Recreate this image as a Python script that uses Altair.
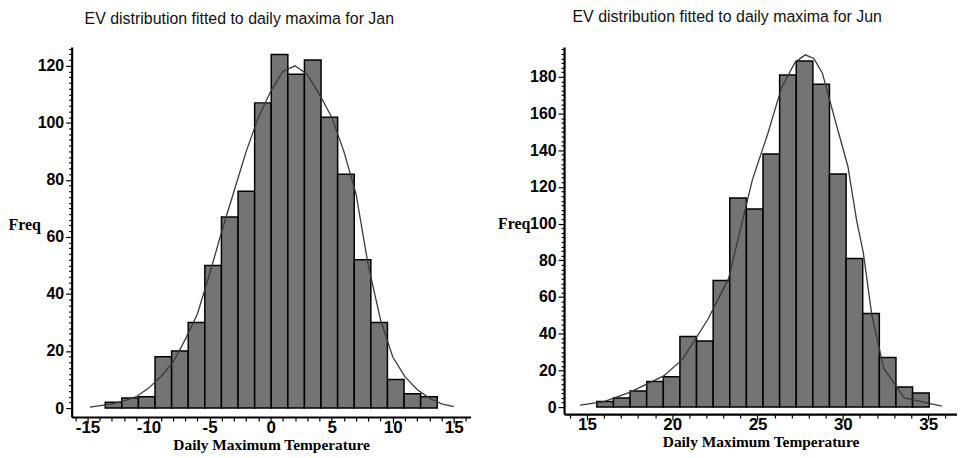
import altair as alt
import pandas as pd

# ---------------- data ----------------
jan_bin_start = -13.55
jan_bin_width = 1.36
jan_counts = [2, 3.5, 4, 18, 20, 30, 50, 67, 76, 107, 124, 117, 122, 102, 82, 52, 30, 10, 5, 4]

jan_curve_x = [-14.8, -13, -12, -11, -10, -9, -8, -7, -6, -5, -4, -3, -2, -1, 0, 1, 2, 3,
               4, 5, 6, 7, 8, 9, 10, 11, 12, 13, 14, 15]
jan_curve_y = [0.3, 1.5, 2.5, 4, 7, 11, 16, 24, 33, 47, 62, 76, 90, 102, 111, 118, 120, 117,
               110, 102, 90, 75, 50, 31, 18, 11, 6.5, 3.5, 1.5, 0.5]

jun_bin_start = 15.58
jun_bin_width = 0.974
jun_counts = [3, 5, 8.7, 14, 16.5, 38.5, 36, 69, 114, 108, 138, 181, 188.6, 176, 127, 81, 51, 27, 11, 7.7]

jun_curve_x = [14.6, 16, 17.5, 19.5, 20.6, 22.1, 23.3, 24.7, 25.6, 26.4, 27.2, 27.8, 28.3,
               28.8, 29.5, 30.3, 30.8, 31.2, 31.7, 32.4, 33.6, 35.8]
jun_curve_y = [1, 3, 8, 17, 26, 48, 70, 124, 149, 174, 188, 192, 190,
               182, 158, 131, 102, 84, 50, 21, 5, 0.5]

jan_title = "EV distribution fitted to daily maxima for Jan"
jun_title = "EV distribution fitted to daily maxima for Jun"
x_title = "Daily Maximum Temperature"
y_title = "Freq"

LABEL_FONT = "Liberation Sans, Arial, sans-serif"
SERIF = "Liberation Serif, Times New Roman, serif"
SANS = "Liberation Sans, Arial, sans-serif"


def panel(bin_start, bin_w, counts, cx, cy, xdom, ydom, xvals, yvals, ymajor,
          title, w, h, freq_x, freq_y, toffset):
    n = len(counts)
    bars = pd.DataFrame({
        "lo": [bin_start + i * bin_w for i in range(n)],
        "hi": [bin_start + (i + 1) * bin_w for i in range(n)],
        "n": counts,
        "zero": [0] * n,
    })
    curve = pd.DataFrame({"lo": cx, "n": cy})

    xaxis = alt.Axis(
        values=xvals,
        labelExpr="datum.value % 5 == 0 ? '' + datum.value : ''",
        tickSize={"condition": {"test": "datum.value % 5 == 0", "value": 6}, "value": 4},
        tickColor="black", tickWidth=1.2,
        domainColor="black", domainWidth=2.2,
        labelFont=LABEL_FONT, labelFontSize=17, labelFontWeight="bold",
        labelColor="black", labelPadding=-3, labelOverlap=False, labelFlush=False,
        labelBound=False,
        grid=False,
        title=x_title, titleFont=SERIF, titleFontSize=15.5, titleFontWeight="bold",
        titleColor="black", titlePadding=2,
    )
    yaxis = alt.Axis(
        values=yvals,
        labelExpr=f"datum.value % {ymajor} == 0 ? '' + datum.value : ''",
        tickSize={"condition": {"test": f"datum.value % {ymajor} == 0", "value": 6}, "value": 3},
        tickColor="black", tickWidth=1.2,
        domainColor="black", domainWidth=2.2,
        labelFont=LABEL_FONT, labelFontSize=16, labelFontWeight="bold",
        labelColor="black", labelPadding=2, labelOverlap=False, labelFlush=False,
        labelBound=False,
        grid=False,
        title=y_title, titleAngle=0, titleX=freq_x, titleY=freq_y,
        titleAlign="left", titleBaseline="middle",
        titleFont=SERIF, titleFontSize=16, titleFontWeight="bold", titleColor="black",
    )
    xs = alt.Scale(domain=xdom, nice=False, zero=False)
    ys = alt.Scale(domain=ydom, nice=False, zero=False)

    bar_layer = alt.Chart(bars).mark_bar(
        fill="#747474", stroke="black", strokeWidth=1.5
    ).encode(
        x=alt.X("lo:Q", scale=xs, axis=xaxis),
        x2="hi:Q",
        y=alt.Y("n:Q", scale=ys, axis=yaxis),
        y2="zero:Q",
    )
    line_layer = alt.Chart(curve).mark_line(
        color="#3a3a3a", strokeWidth=1.3
    ).encode(
        x=alt.X("lo:Q", scale=xs, axis=xaxis),
        y=alt.Y("n:Q", scale=ys, axis=yaxis),
    )
    return alt.layer(bar_layer, line_layer).properties(
        width=w, height=h,
        title=alt.TitleParams(
            title, frame="bounds", anchor="middle", font=SANS, fontSize=16,
            fontWeight="normal", color="#111", offset=toffset,
        ),
    )


jan_xticks = list(range(-16, 17))
jan_yticks = list(range(0, 127, 2))
jun_xticks = list(range(14, 37))
jun_yticks = [i * 2.5 for i in range(0, 79)]

left = panel(jan_bin_start, jan_bin_width, jan_counts, jan_curve_x, jan_curve_y,
             [-16.3, 16.38], [-3.14, 126.6], jan_xticks, jan_yticks, 20,
             jan_title, 401, 372, -64, 178, 14)
right = panel(jun_bin_start, jun_bin_width, jun_counts, jun_curve_x, jun_curve_y,
              [13.66, 36.69], [-3.8, 196.3], jun_xticks, jun_yticks, 20,
              jun_title, 395, 369, -67, 177, 16)

chart = alt.hconcat(left, right, spacing=27).properties(
    padding=0, background="white"
).configure_view(strokeWidth=0)

chart.save("out.html", embed_options={"renderer": "svg", "actions": False})
